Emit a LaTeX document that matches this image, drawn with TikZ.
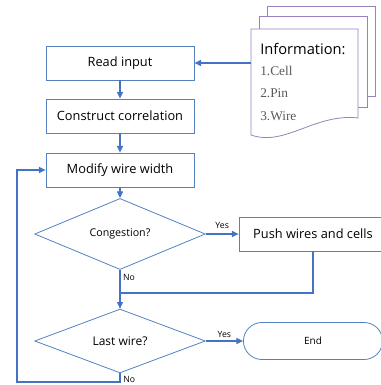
\documentclass[tikz,border=0pt]{standalone}
\usepackage{fontspec}
\setmainfont{Liberation Serif}
\setsansfont{Open Sans}
\usetikzlibrary{arrows.meta,shapes.geometric,shapes.misc}
\definecolor{boxblue}{RGB}{84,130,192}
\definecolor{arrowblue}{RGB}{68,114,196}
\definecolor{docpurple}{RGB}{150,130,190}
\definecolor{itemgray}{RGB}{90,90,90}
\begin{document}
\begin{tikzpicture}[x=0.75pt,y=-0.75pt,
    box/.style={draw=boxblue,line width=0.6pt,fill=white,minimum width=111pt,minimum height=25.5pt,font=\sffamily\fontsize{9.6}{10}\selectfont},
    decision/.style={draw=boxblue,line width=0.6pt,diamond,inner sep=0pt,minimum width=128pt,minimum height=41pt},
    terminal/.style={draw=boxblue,line width=0.6pt,rounded rectangle,minimum width=111pt,minimum height=27.75pt,font=\sffamily\fontsize{7.5}{9}\selectfont},
    line/.style={draw=arrowblue,line width=0.8pt},
    arrow/.style={line,-{Triangle[length=5pt,width=4.5pt]}},
    tag/.style={font=\sffamily\fontsize{6.5}{7}\selectfont,inner sep=0pt},
    page/.style={draw=docpurple,line width=0.6pt,fill=white}]
    \useasboundingbox (0,0) rectangle (381,385);
    \draw[page] (267,6) rectangle (375,96);
    \draw[page] (259,16) rectangle (367,107);
    \draw[page] (251,29) -- (358,29) -- (358,118) .. controls (315,113) and (285,147) .. (251,135) -- cycle;
    \node[anchor=west,inner sep=0pt,font=\sffamily\fontsize{11}{12}\selectfont] (info) at (260,49) {Information:};
    \node[anchor=west,inner sep=0pt,text=itemgray,font=\fontsize{10}{11}\selectfont] (cell) at (260,71) {1.Cell};
    \node[anchor=west,inner sep=0pt,text=itemgray,font=\fontsize{10}{11}\selectfont] (pin) at (260,93) {2.Pin};
    \node[anchor=west,inner sep=0pt,text=itemgray,font=\fontsize{10}{11}\selectfont] (wire) at (260,116) {3.Wire};
    \coordinate (doc) at (251,63);
    \node[box] (read) at (120,63) {Read input};
    \node[box] (corr) at (120,116) {Construct correlation};
    \node[box] (modify) at (120,170) {Modify wire width};
    \node[decision,font=\sffamily\fontsize{8}{9}\selectfont] (cong) at (120,234) {Congestion?};
    \node[box] (push) at (313,234) {Push wires and cells};
    \node[decision,font=\sffamily\fontsize{9}{10}\selectfont] (last) at (120,341) {Last wire?};
    \node[terminal] (finish) at (313,341) {End};
    \coordinate (join) at (120,293);
    \coordinate (low) at (120,382);
    \coordinate (side) at (17,382);
    \draw[arrow] (doc) -- (read);
    \draw[arrow] (read) -- (corr);
    \draw[arrow] (corr) -- (modify);
    \draw[arrow] (modify) -- (cong);
    \draw[arrow] (cong) -- node[tag,above=4pt] {Yes} (push);
    \draw[arrow] (cong) -- node[tag,pos=0.2,right=2pt] {No} (last);
    \draw[line] (push) |- (join);
    \draw[arrow] (last) -- node[tag,above=2pt] {Yes} (finish);
    \draw[arrow] (last) -- (low) -- (side) |- (modify);
    \node[tag,anchor=west] (no) at (123,379) {No};
\end{tikzpicture}
\end{document}
